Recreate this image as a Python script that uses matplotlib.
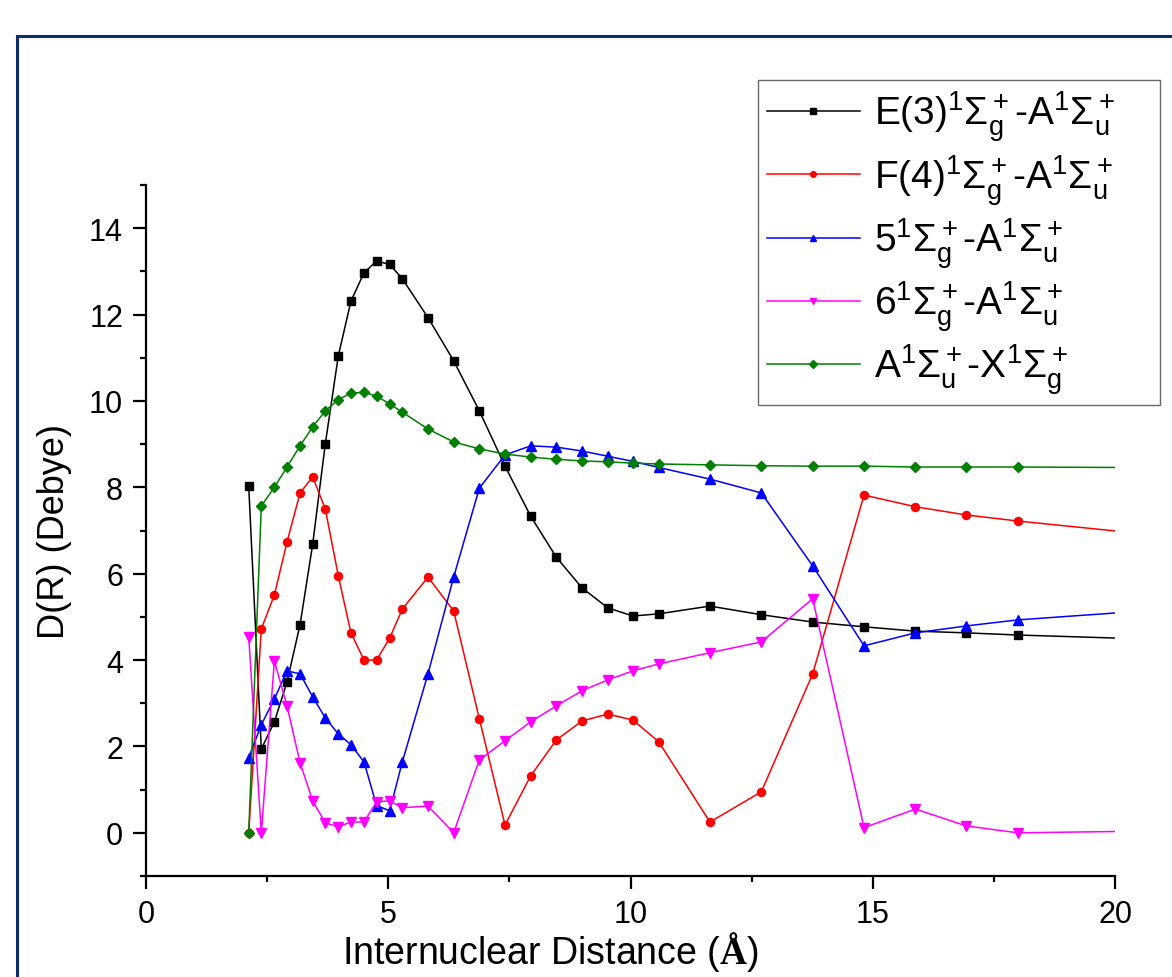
import matplotlib
matplotlib.use("Agg")
import matplotlib.pyplot as plt
from matplotlib.lines import Line2D
from matplotlib.ticker import MultipleLocator

plt.rcParams['font.family'] = ['Liberation Sans', 'DejaVu Sans']
plt.rcParams['mathtext.fontset'] = 'custom'
plt.rcParams['mathtext.rm'] = 'Liberation Sans'
plt.rcParams['mathtext.it'] = 'Liberation Sans'
plt.rcParams['mathtext.bf'] = 'Liberation Serif:bold'

# Internuclear distance (Angstrom)
R = [2.12, 2.38, 2.65, 2.91, 3.18, 3.44, 3.70, 3.97, 4.23, 4.50, 4.76, 5.03, 5.29,
     5.82, 6.35, 6.88, 7.41, 7.94, 8.47, 9.00, 9.53, 10.05, 10.58, 11.64, 12.70,
     13.76, 14.82, 15.88, 16.93, 17.99, 20.0]

D_E = [8.03, 1.94, 2.57, 3.49, 4.82, 6.68, 9.00, 11.05, 12.31, 12.97, 13.24, 13.16, 12.83,
       11.93, 10.93, 9.77, 8.49, 7.33, 6.38, 5.67, 5.21, 5.02, 5.07, 5.25, 5.05,
       4.88, 4.77, 4.67, 4.63, 4.58, 4.51]
D_F = [0.00, 4.72, 5.51, 6.73, 7.87, 8.24, 7.50, 5.95, 4.63, 4.00, 4.00, 4.51, 5.18,
       5.92, 5.14, 2.64, 0.18, 1.32, 2.15, 2.59, 2.75, 2.61, 2.11, 0.25, 0.95,
       3.68, 7.82, 7.55, 7.36, 7.22, 6.99]
D_5 = [1.74, 2.50, 3.10, 3.75, 3.68, 3.15, 2.66, 2.29, 2.04, 1.64, 0.63, 0.51, 1.64,
       3.68, 5.92, 7.98, 8.75, 8.96, 8.93, 8.84, 8.72, 8.60, 8.46, 8.19, 7.87,
       6.18, 4.33, 4.63, 4.79, 4.93, 5.09]
D_6 = [4.54, 0.00, 3.98, 2.94, 1.62, 0.74, 0.23, 0.14, 0.25, 0.25, 0.72, 0.74, 0.58,
       0.62, 0.00, 1.69, 2.13, 2.57, 2.94, 3.29, 3.54, 3.75, 3.91, 4.17, 4.42,
       5.42, 0.12, 0.55, 0.16, 0.00, 0.03]
D_A = [0.00, 7.57, 8.00, 8.47, 8.96, 9.40, 9.77, 10.03, 10.18, 10.20, 10.11, 9.93, 9.74,
       9.35, 9.05, 8.89, 8.77, 8.70, 8.65, 8.61, 8.59, 8.56, 8.54, 8.52, 8.50,
       8.49, 8.49, 8.47, 8.47, 8.47, 8.46]

labels = [r"E(3)$^1\Sigma_g^+$-A$^1\Sigma_u^+$",
          r"F(4)$^1\Sigma_g^+$-A$^1\Sigma_u^+$",
          r"5$^1\Sigma_g^+$-A$^1\Sigma_u^+$",
          r"6$^1\Sigma_g^+$-A$^1\Sigma_u^+$",
          r"A$^1\Sigma_u^+$-X$^1\Sigma_g^+$"]
series = [D_E, D_F, D_5, D_6, D_A]
colors = ['black', '#ff0000', '#0000ff', '#ff00ff', '#008000']
markers = ['s', 'o', '^', 'v', 'D']
msizes = [6.0, 5.8, 6.8, 6.8, 5.2]

W, H = 1172, 978
fig = plt.figure(figsize=(W / 100, H / 100), dpi=100)
ax = fig.add_axes([146 / W, 1 - 877 / H, 969 / W, 691 / H])

n = len(R) - 1
for y, c, m, ms, lab in zip(series, colors, markers, msizes, labels):
    ax.plot(R, y, color=c, lw=1.1, marker=m, ms=ms, markevery=slice(0, n),
            mec=c, mfc=c, label=lab, clip_on=True)

ax.set_xlim(0, 20)
ax.set_ylim(-1, 15)
ax.xaxis.set_major_locator(MultipleLocator(5))
ax.xaxis.set_minor_locator(MultipleLocator(2.5))
ax.set_yticks([0, 2, 4, 6, 8, 10, 12, 14])
ax.yaxis.set_minor_locator(MultipleLocator(1))
ax.spines['top'].set_visible(False)
ax.spines['right'].set_visible(False)
for s in ['left', 'bottom']:
    ax.spines[s].set_linewidth(1.6)
ax.tick_params(which='major', direction='out', length=9.5, width=1.6, labelsize=22, pad=7)
ax.tick_params(which='minor', direction='out', length=4.5, width=1.6)

ax.set_xlabel(r"Internuclear Distance ($\mathbf{Å}$)", fontsize=27, labelpad=0)
ax.xaxis.set_label_coords((550 - 146) / 969, -0.077)
ax.set_ylabel("D(R) (Debye)", fontsize=26, labelpad=12)

x0, y1 = 758 / W, 1 - 81 / H
lw_ = (1160 - 758) / W
leg = fig.legend(loc='upper left', bbox_to_anchor=(x0, y1 - 0.33, lw_, 0.33),
                 bbox_transform=fig.transFigure, fontsize=28, frameon=True,
                 fancybox=False, edgecolor='#444444', handlelength=2.4,
                 handletextpad=0.35, borderpad=0.22, labelspacing=0.22,
                 borderaxespad=0, markerscale=0.7, mode='expand')
leg.get_frame().set_linewidth(1.0)

# outer navy frame (partially cropped)
navy = '#0b2d6b'
fig.add_artist(Line2D([17 / W, 17 / W], [0, 1 - 37 / H], color=navy, lw=2.2,
                      transform=fig.transFigure))
fig.add_artist(Line2D([17 / W, 1.0], [1 - 37 / H, 1 - 37 / H], color=navy, lw=2.2,
                      transform=fig.transFigure))

fig.savefig("out.png", dpi=100)
